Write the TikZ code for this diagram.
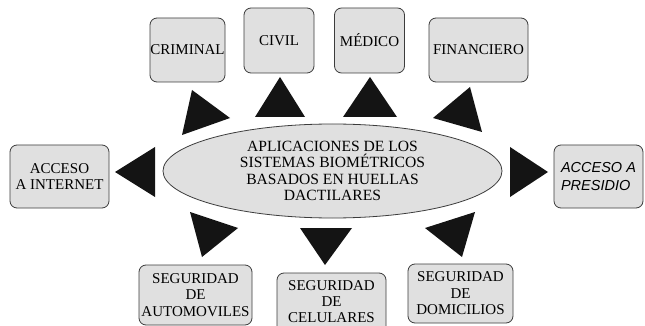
\documentclass[tikz,border=0pt]{standalone}
\usepackage{fontspec}
\setmainfont{Liberation Serif}
\newfontfamily\presfont{Liberation Sans}
\usetikzlibrary{shapes.geometric}
\definecolor{boxgray}{RGB}{224,224,224}
\definecolor{edgegray}{RGB}{60,60,60}
\begin{document}
\begin{tikzpicture}[x=1pt,y=-1pt,
  box/.style={draw=edgegray, line width=0.8pt, fill=boxgray, rounded corners=7pt,
    inner sep=0pt, align=center, font=\fontsize{15}{16.5}\selectfont},
  hub/.style={draw=edgegray, line width=0.8pt, fill=boxgray, ellipse, inner sep=0pt,
    align=center, font=\fontsize{15.6}{16.3}\selectfont},
  tri/.style={fill=black!92}]
\useasboundingbox (0,0) rectangle (645,326);
\clip (0,0) rectangle (645,326);
\fill[white] (0,0) rectangle (645,326);

% hub
\node[hub, minimum width=339pt, minimum height=94pt] (hub) at (332.5,171)
  {APLICACIONES DE LOS\\SISTEMAS BIOMÉTRICOS\\BASADOS EN HUELLAS\\DACTILARES};

% boxes
\node[box, minimum width=75pt, minimum height=64pt] (crim) at (187.5,50) {CRIMINAL};
\node[box, minimum width=70pt, minimum height=65pt] (civil) at (279,40.5) {CIVIL};
\node[box, minimum width=70pt, minimum height=65pt] (med) at (369.5,40.5) {MÉDICO};
\node[box, minimum width=99pt, minimum height=64pt] (fin) at (478.5,50) {FINANCIERO};
\node[box, minimum width=99pt, minimum height=63pt] (inet) at (59.5,176.5) {ACCESO\\A INTERNET};
\node[box, minimum width=89pt, minimum height=63pt, align=left,
  font=\presfont\itshape\fontsize{14.5}{17.5}\selectfont] (pres) at (598.5,176.5) {ACCESO A\\PRESIDIO};
\node[box, minimum width=113pt, minimum height=60pt] (auto) at (195.5,295) {SEGURIDAD\\DE\\AUTOMOVILES};
\node[box, minimum width=109pt, minimum height=62pt] (cel) at (331.5,304) {};
\node[align=center, inner sep=0pt, font=\fontsize{15}{16}\selectfont] (celtext) at (331.5,302) {SEGURIDAD\\DE\\CELULARES};
\node[box, minimum width=105pt, minimum height=59pt] (dom) at (460.5,293.5) {SEGURIDAD\\DE\\DOMICILIOS};

% triangles
\fill[tri] (192,90) -- (230,118) -- (182,135) -- cycle;
\fill[tri] (280,77) -- (305,117) -- (255,117) -- cycle;
\fill[tri] (370,77) -- (397,117) -- (343,117) -- cycle;
\fill[tri] (470,87) -- (482,132) -- (433,118) -- cycle;
\fill[tri] (115,172) -- (155,147) -- (155,197) -- cycle;
\fill[tri] (548,172) -- (510,147) -- (510,197) -- cycle;
\fill[tri] (190,212) -- (238,228) -- (202,257) -- cycle;
\fill[tri] (300,228) -- (352,228) -- (325,265) -- cycle;
\fill[tri] (425,228) -- (475,212) -- (462,257) -- cycle;
\end{tikzpicture}
\end{document}
